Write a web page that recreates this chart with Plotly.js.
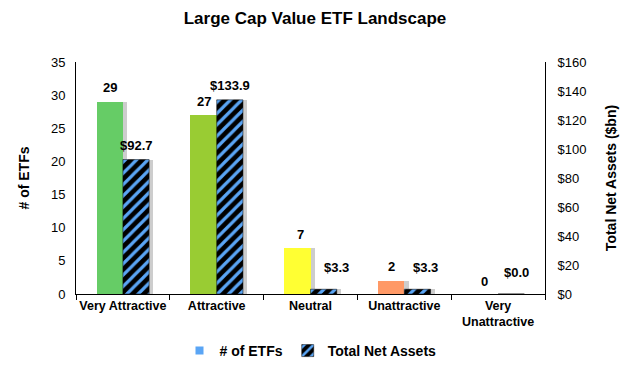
<!DOCTYPE html>
<html><head><meta charset="utf-8">
<script src="https://cdn.plot.ly/plotly-3.0.1.min.js"></script>
<style>body{margin:0;background:#fff}#chart{width:630px;height:367px}</style>
</head><body><div id="chart"></div>
<script>
const categories = ["Very Attractive", "Attractive", "Neutral", "Unattractive", "Very Unattractive"];
const categoryLabels = ["Very Attractive", "Attractive", "Neutral", "Unattractive", "Very<br>Unattractive"];
const etfCounts = [29, 27, 7, 2, 0];
const netAssets = [92.7, 133.9, 3.3, 3.3, 0.0];
const countColors = ["#66cc66", "#99cc33", "#ffff33", "#ff9966", "#bbbbbb"];
const leftTicks = [0, 5, 10, 15, 20, 25, 30, 35];
const rightTicks = [0, 20, 40, 60, 80, 100, 120, 140, 160];

// label placement tweaks (pixels) for the Excel-style data labels
const countLabelShift = [[0,14],[0,14],[3,13],[0,14],[0,13]];
const assetLabelShift = [[0,14],[0,14],[13,22],[8,22],[5,22]];

const FONT = "Liberation Sans, Arial, sans-serif";
const W = 0.28, SH = 0.045;

const traces = [
  {type:"bar", x:categories, y:etfCounts, yaxis:"y", width:W, offset:-W+SH,
   marker:{color:"rgba(130,130,130,0.4)"}, showlegend:false, hoverinfo:"skip"},
  {type:"bar", x:categories, y:etfCounts, yaxis:"y", width:W, offset:-W,
   marker:{color:countColors, line:{width:0}}, showlegend:false, name:"# of ETFs"},
  {type:"bar", x:categories, y:netAssets, yaxis:"y2", width:W, offset:SH,
   marker:{color:"rgba(130,130,130,0.4)"}, showlegend:false, hoverinfo:"skip"},
  {type:"bar", x:categories, y:netAssets, yaxis:"y2", width:W, offset:0,
   name:"Total Net Assets", showlegend:true, legendrank:2,
   marker:{color:"#000", line:{color:"#000", width:0.5},
     pattern:{shape:"/", bgcolor:"#000", fgcolor:"#5aa5f5", size:8, solidity:0.4}}},
  {type:"scatter", x:[null], y:[null], mode:"markers", name:"# of ETFs",
   marker:{symbol:"square", color:"#5aa5f5", size:8}, showlegend:true, legendrank:1}
];

const annotations = [];
categories.forEach((c,i)=>{
  annotations.push({x:c, y:etfCounts[i], xref:"x", yref:"y", text:String(etfCounts[i]),
    showarrow:false, xshift:-W*94/2 + countLabelShift[i][0], yshift:countLabelShift[i][1],
    font:{family:FONT, size:13, color:"#000", weight:"bold"}});
  annotations.push({x:c, y:netAssets[i], xref:"x", yref:"y2", text:"$"+netAssets[i].toFixed(1),
    showarrow:false, xshift:W*94/2 + assetLabelShift[i][0], yshift:assetLabelShift[i][1],
    font:{family:FONT, size:13, color:"#000", weight:"bold"}});
});

const layout = {
  width:630, height:367,
  margin:{l:76, r:85, t:62, b:73, autoexpand:false},
  paper_bgcolor:"#fff", plot_bgcolor:"#fff",
  font:{family:FONT, size:12, color:"#000"},
  title:{text:"<b>Large Cap Value ETF Landscape</b>", x:0.5, xanchor:"center", y:0.95, yanchor:"middle",
    font:{family:FONT, size:17, color:"#000"}},
  barmode:"overlay",
  bargap:0,
  xaxis:{type:"category", tickvals:categories, ticktext:categoryLabels.map(t=>"<b>"+t+"</b>"),
    tickson:"boundaries", ticks:"outside", ticklen:5, tickcolor:"#000", tickangle:0,
    showline:true, linecolor:"#000", linewidth:1, showgrid:false, zeroline:false,
    tickfont:{family:FONT, size:12.5}, range:[-0.5,4.5], automargin:false},
  yaxis:{range:[0,35], tickvals:leftTicks, showline:true, linecolor:"#000", linewidth:1,
    showgrid:false, zeroline:false, ticks:"outside", ticklen:7, tickcolor:"rgba(0,0,0,0)",
    tickfont:{family:FONT, size:13}, automargin:false,
    title:{text:"<b># of ETFs</b>", font:{family:FONT, size:14}, standoff:18}},
  yaxis2:{range:[0,160], tickvals:rightTicks, ticktext:rightTicks.map(v=>"$"+v), overlaying:"y", side:"right",
    showline:true, linecolor:"#000", linewidth:1, showgrid:false, zeroline:false,
    ticks:"outside", ticklen:9, tickcolor:"rgba(0,0,0,0)", automargin:false,
    tickfont:{family:FONT, size:13},
    title:{text:"<b>Total Net Assets ($bn)</b>", font:{family:FONT, size:14}, standoff:20}},
  legend:{orientation:"h", x:0.5, xanchor:"center", yref:"container", y:0.0, yanchor:"bottom",
    font:{family:FONT, size:14, weight:"bold"}, itemwidth:30, traceorder:"normal"},
  annotations:annotations,
  showlegend:true
};

Plotly.newPlot("chart", traces, layout, {displayModeBar:false, staticPlot:true});
</script>
</body></html>
